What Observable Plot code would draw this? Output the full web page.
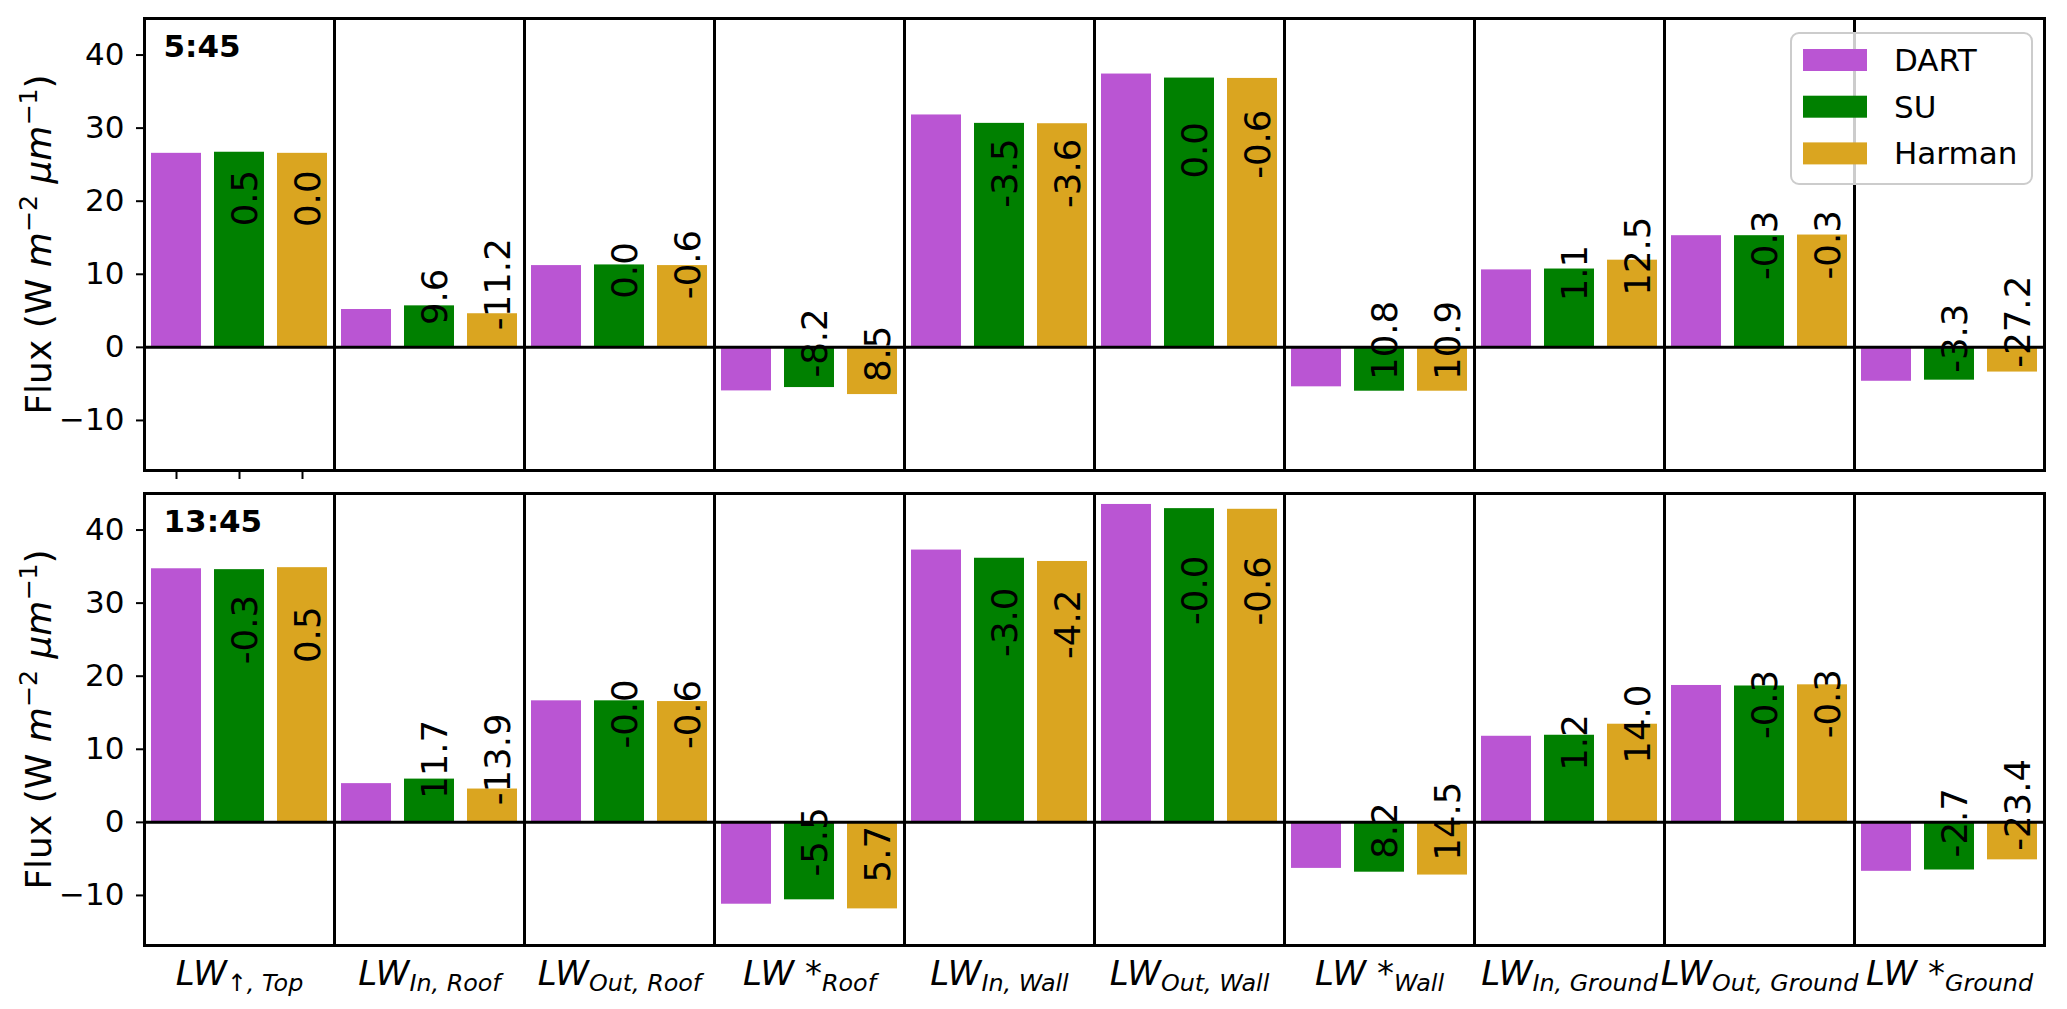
<!DOCTYPE html>
<html><head><meta charset="utf-8">
<script src="https://cdn.jsdelivr.net/npm/d3@7"></script>
<script src="https://cdn.jsdelivr.net/npm/@observablehq/plot@0.6"></script>
<style>html,body{margin:0;padding:0;background:#fff;overflow:hidden} svg{display:block}</style>
</head><body><div id="chart"></div>
<script>
// ---- data ----
const categories = ["LW_{↑, Top}","LW_{In, Roof}","LW_{Out, Roof}","LW*_{Roof}","LW_{In, Wall}","LW_{Out, Wall}","LW*_{Wall}","LW_{In, Ground}","LW_{Out, Ground}","LW*_{Ground}"];
const series = ["DART","SU","Harman"];
const colors = ["#BA55D3","#008000","#DAA520"];
const times = ["5:45","13:45"];
const yTicks = [-10,0,10,20,30,40];
const yLabel = "Flux (W m^{-2} μm^{-1})";

const dart0545   = [26.55, 5.18, 11.19, -5.96, 31.8, 37.4, -5.4, 10.6, 15.28, -4.64];
const su0545     = [26.7, 5.68, 11.28, -5.5, 30.65, 36.85, -6.0, 10.72, 15.28, -4.49];
const harman0545 = [26.55, 4.6, 11.19, -6.46, 30.6, 36.8, -6.0, 11.93, 15.37, -3.38];
const suPct0545     = ["0.5","9.6","0.0","-8.2","-3.5","0.0","10.8","1.1","-0.3","-3.3"];
const harmanPct0545 = ["0.0","-11.2","-0.6","8.5","-3.6","-0.6","10.9","12.5","-0.3","-27.2"];

const dart1345   = [34.7, 5.3, 16.63, -11.2, 37.26, 43.5, -6.3, 11.78, 18.73, -6.7];
const su1345     = [34.58, 5.92, 16.63, -10.6, 36.14, 42.93, -6.82, 11.92, 18.66, -6.52];
const harman1345 = [34.85, 4.56, 16.53, -11.84, 35.7, 42.84, -7.21, 13.43, 18.82, -5.13];
const suPct1345     = ["-0.3","11.7","-0.0","-5.5","-3.0","-0.0","8.2","1.2","-0.3","-2.7"];
const harmanPct1345 = ["0.5","-13.9","-0.6","5.7","-4.2","-0.6","14.5","14.0","-0.3","-23.4"];

// ---- table ----
const values = {"5:45": {DART: dart0545, SU: su0545, Harman: harman0545},
                "13:45": {DART: dart1345, SU: su1345, Harman: harman1345}};
const pcts = {"5:45": {SU: suPct0545, Harman: harmanPct0545},
              "13:45": {SU: suPct1345, Harman: harmanPct1345}};
const rows = [];
for (const t of times) categories.forEach((c, i) => {
  for (const s of series) rows.push({time: t, group: c, series: s, value: values[t][s][i], pct: s === "DART" ? null : pcts[t][s][i]});
});
const labelBase = v => 0.643 * v - 0.6;

const W = 2067, H = 1009;
const yDomain = [-16.85, 45.0];
const plot = Plot.plot({
  width: W, height: H,
  marginLeft: 141, marginRight: 20, marginTop: 17, marginBottom: 63,
  style: {fontFamily: "'DejaVu Sans', sans-serif", fontSize: "31px", background: "#fff", color: "#000"},
  fx: {domain: categories, padding: 0},
  fy: {domain: times, paddingInner: 0.048, paddingOuter: 0, axis: null},
  x: {domain: series, paddingInner: 0.2, paddingOuter: 0.1, axis: null},
  y: {domain: yDomain},
  color: {domain: series, range: colors},
  marks: [
    Plot.barY(rows, {fx: "group", fy: "time", x: "series", y: "value", fill: "series"}),
    Plot.ruleY([0], {stroke: "#000", strokeWidth: 3}),
    Plot.frame({stroke: "#000", strokeWidth: 3}),
    Plot.text(rows.filter(d => d.pct != null), {fx: "group", fy: "time", x: "series", y: d => labelBase(d.value), text: "pct",
      rotate: -90, textAnchor: "start", lineAnchor: "middle", dx: 6, fontSize: 35.5, fill: "#000"}),
    Plot.text(times, {fy: d => d, fx: () => categories[0], text: d => d, frameAnchor: "top-left", dx: 19, dy: 38,
      lineAnchor: "bottom", textAnchor: "start", fontWeight: "bold", fontSize: 31, fill: "#000"}),
    Plot.text(times, {fy: d => d, fx: () => categories[0], text: () => yLabel, frameAnchor: "left", dx: -105,
      rotate: -90, textAnchor: "middle", lineAnchor: "middle", fontSize: 36, fill: "#000"}),
    Plot.ruleX(series, {x: d => d, fx: () => categories[0], fy: () => times[0], y1: yDomain[0], y2: yDomain[0], insetBottom: -9, strokeWidth: 2, stroke: "#000"}),
    Plot.axisY({ticks: yTicks, tickSize: 8, tickPadding: 12, label: null, fontSize: 31, strokeWidth: 2}),
    Plot.axisFx({anchor: "bottom", tickSize: 0, tickPadding: 15, label: null, fontSize: 34})
  ]
});
document.getElementById("chart").appendChild(plot);

// ---- math-style text ----
const NS = "http://www.w3.org/2000/svg";
function ts(parent, txt, attrs) {
  const t = document.createElementNS(NS, "tspan");
  t.textContent = txt;
  for (const k in attrs) t.setAttribute(k, attrs[k]);
  parent.appendChild(t);
  return t;
}
plot.querySelectorAll("text").forEach(el => {
  const s = el.textContent;
  if (categories.includes(s)) {
    const m = s.match(/^(LW)(\*?)_\{(.*)\}$/);
    el.textContent = "";
    ts(el, m[1], {"font-style": "italic"});
    if (m[2]) ts(el, " *", {});
    ts(el, m[3], {"font-style": "italic", "font-size": "0.7em", "dy": "0.28em"});
  } else if (s === yLabel) {
    el.textContent = "";
    ts(el, "Flux (W ", {});
    ts(el, "m", {"font-style": "italic"});
    ts(el, "−2", {"font-size": "0.7em", "dy": "-0.55em"});
    ts(el, " ", {"dy": "0.385em"});
    ts(el, "μm", {"font-style": "italic"});
    ts(el, "−1", {"font-size": "0.7em", "dy": "-0.55em"});
    ts(el, ")", {"dy": "0.385em"});
  }
});

// ---- legend (inside top-right panel) ----
const svg = d3.select(plot);
const lx = W - 20 - 256, ly = 33;
const lg = svg.append("g").attr("text-anchor", "start");
lg.append("rect").attr("x", lx).attr("y", ly).attr("width", 241).attr("height", 151).attr("rx", 8)
  .attr("fill", "#fff").attr("fill-opacity", 0.8).attr("stroke", "#cccccc").attr("stroke-width", 2);
series.forEach((s, i) => {
  lg.append("rect").attr("x", lx + 12).attr("y", ly + 16 + i * 46.7).attr("width", 64).attr("height", 22).attr("fill", colors[i]);
  lg.append("text").attr("x", lx + 103).attr("y", ly + 27 + i * 46.7).attr("dy", "0.35em")
    .attr("text-anchor", "start").attr("font-size", 31).attr("fill", "#000").text(s);
});
</script>
</body></html>
